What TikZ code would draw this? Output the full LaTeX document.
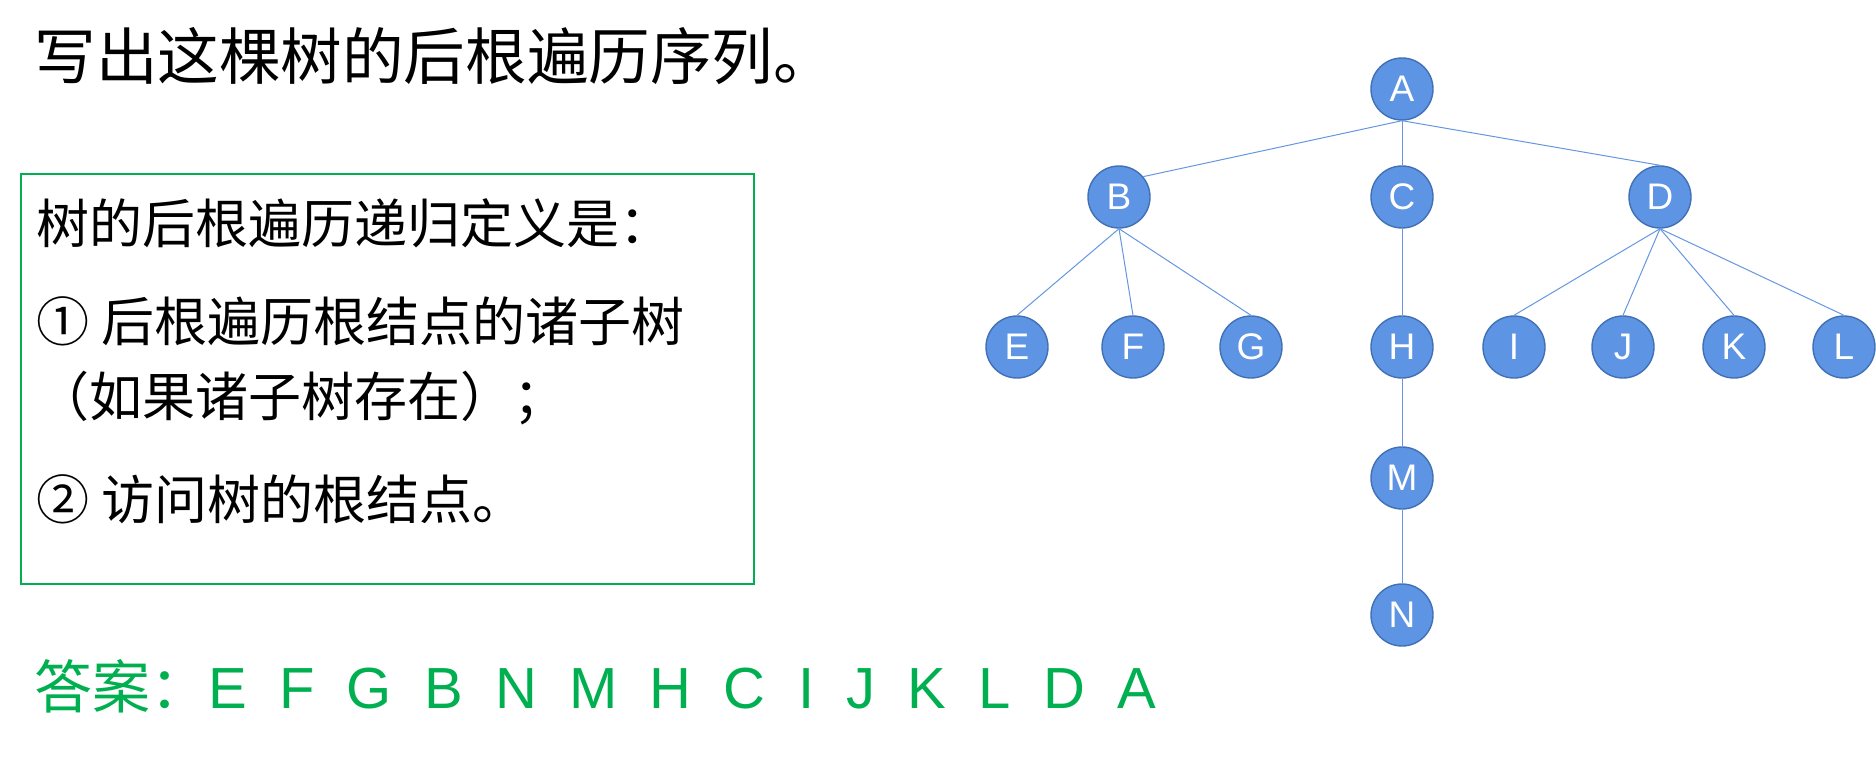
\documentclass[tikz,border=0pt]{standalone}
\usepackage{fontspec}
\setmainfont{Liberation Sans}
\newfontfamily\cjk{Noto Sans CJK SC}
\definecolor{nodeblue}{RGB}{94,148,228}
\definecolor{nodeedge}{RGB}{65,113,180}
\definecolor{linkblue}{RGB}{100,150,225}
\definecolor{answergreen}{RGB}{0,176,80}

\begin{document}
\begin{tikzpicture}[x=0.5pt, y=-0.5pt, every node/.style={inner sep=0pt},
  treenode/.style={circle, draw=nodeedge, line width=0.7pt, fill=nodeblue, minimum size=31pt,
    text=white, font=\fontsize{18.5}{20}\selectfont},
  treeedge/.style={draw=linkblue, line width=0.5pt},
  deftext/.style={anchor=base west, font=\cjk\fontsize{26.5}{30}\selectfont}]
\useasboundingbox (0,0) rectangle (1876,781);

% Question and definition
\node[anchor=base west, font=\cjk\fontsize{30.8}{34}\selectfont] (title) at (34,80) {写出这棵树的后根遍历序列。};
\node[draw=answergreen, line width=0.8pt, minimum width=366.5pt, minimum height=205pt] (defbox) at (387.5,379) {};
\node[deftext] (def0) at (36,243) {树的后根遍历递归定义是：};
\node[deftext] (def1) at (36,341) {① 后根遍历根结点的诸子树};
\node[deftext] (def2) at (36,416) {（如果诸子树存在）；};
\node[deftext] (def3) at (36,519) {② 访问树的根结点。};
\node[anchor=base west, text=answergreen, font=\fontsize{29}{32}\selectfont] (answer) at (34,708)
  {{\cjk 答案：}E~~F~~G~~B~~N~~M~~H~~C~~I~~J~~K~~L~~D~~A};

% Tree nodes
\node[treenode] (A) at (1402,89) {A};
\node[treenode] (B) at (1119,197) {B};
\node[treenode] (C) at (1402,197) {C};
\node[treenode] (D) at (1660,197) {D};
\node[treenode] (E) at (1017,347) {E};
\node[treenode] (F) at (1133,347) {F};
\node[treenode] (G) at (1251,347) {G};
\node[treenode] (H) at (1402,347) {H};
\node[treenode] (I) at (1514,347) {I};
\node[treenode] (J) at (1623,347) {J};
\node[treenode] (K) at (1734,347) {K};
\node[treenode] (L) at (1844,347) {L};
\node[treenode] (M) at (1402,478) {M};
\node[treenode] (N) at (1402,615) {N};

% Edges
\draw[treeedge] (A.south) -- (B.40);
\draw[treeedge] (A.south) -- (C.north);
\draw[treeedge] (A.south) -- (D.north);
\foreach \kid in {E,F,G} \draw[treeedge] (B.south) -- (\kid.north);
\draw[treeedge] (C.south) -- (H.north);
\foreach \kid in {I,J,K,L} \draw[treeedge] (D.south) -- (\kid.north);
\draw[treeedge] (H.south) -- (M.north);
\draw[treeedge] (M.south) -- (N.north);

\end{tikzpicture}
\end{document}
